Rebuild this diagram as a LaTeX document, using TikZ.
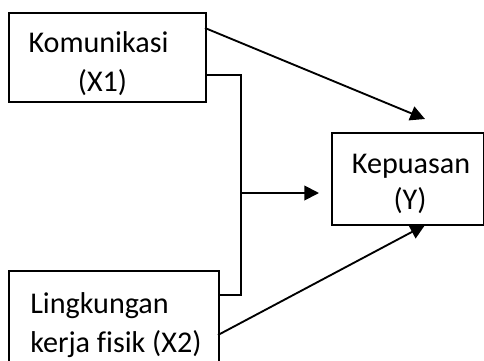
\documentclass[tikz,border=0pt]{standalone}
\usepackage{fontspec}
\setmainfont[Ligatures=NoCommon]{Carlito}
\usetikzlibrary{arrows.meta}
\begin{document}
\begin{tikzpicture}[x=0.75pt,y=-0.75pt,
  box/.style={draw,line width=1.4pt,rectangle,inner sep=0pt,anchor=north west},
  lbl/.style={anchor=base,inner sep=0pt,font=\fontsize{22.6}{29}\selectfont},
  lbll/.style={anchor=base west,inner sep=0pt,font=\fontsize{22.6}{29}\selectfont},
  conn/.style={line width=1.4pt},
  arr/.style={line width=1.4pt,-{Triangle[length=11pt,width=11pt]}}]
\useasboundingbox (0,0) rectangle (484,360);
\clip (0,0) rectangle (484,360);
% boxes
\node[box,minimum width=197*0.75pt,minimum height=89*0.75pt] (X1) at (8,12) {};
\node[box,minimum width=152*0.75pt,minimum height=92*0.75pt] (Y) at (331,132) {};
\node[box,minimum width=210*0.75pt,minimum height=110*0.75pt] (X2) at (8,270) {};
% texts
\node[lbl] (t1a) at (98.5,52) {Komunikasi};
\node[lbl] (t1b) at (102.5,91) {(X1)};
\node[lbl] (tya) at (411,173) {Kepuasan};
\node[lbl] (tyb) at (410,209) {(Y)};
\node[lbll] (t2a) at (30,313) {Lingkungan};
\node[lbll] (t2b) at (30,352) {kerja fisik (X2)};
% coordinates
\coordinate (s1) at (205,28);
\coordinate (e1) at (425,119);
\coordinate (s2) at (218,335);
\coordinate (e2) at (425,225);
\coordinate (b1) at (205,75);
\coordinate (b2) at (241,75);
\coordinate (b3) at (241,295);
\coordinate (b4) at (218,295);
\coordinate (m1) at (241,193);
\coordinate (m2) at (319,193);
% connectors
\draw[arr] (s1) -- (e1);
\draw[arr] (s2) -- (e2);
\draw[conn] (b1) -- (b2) -- (b3) -- (b4);
\draw[arr] (m1) -- (m2);
\end{tikzpicture}
\end{document}
